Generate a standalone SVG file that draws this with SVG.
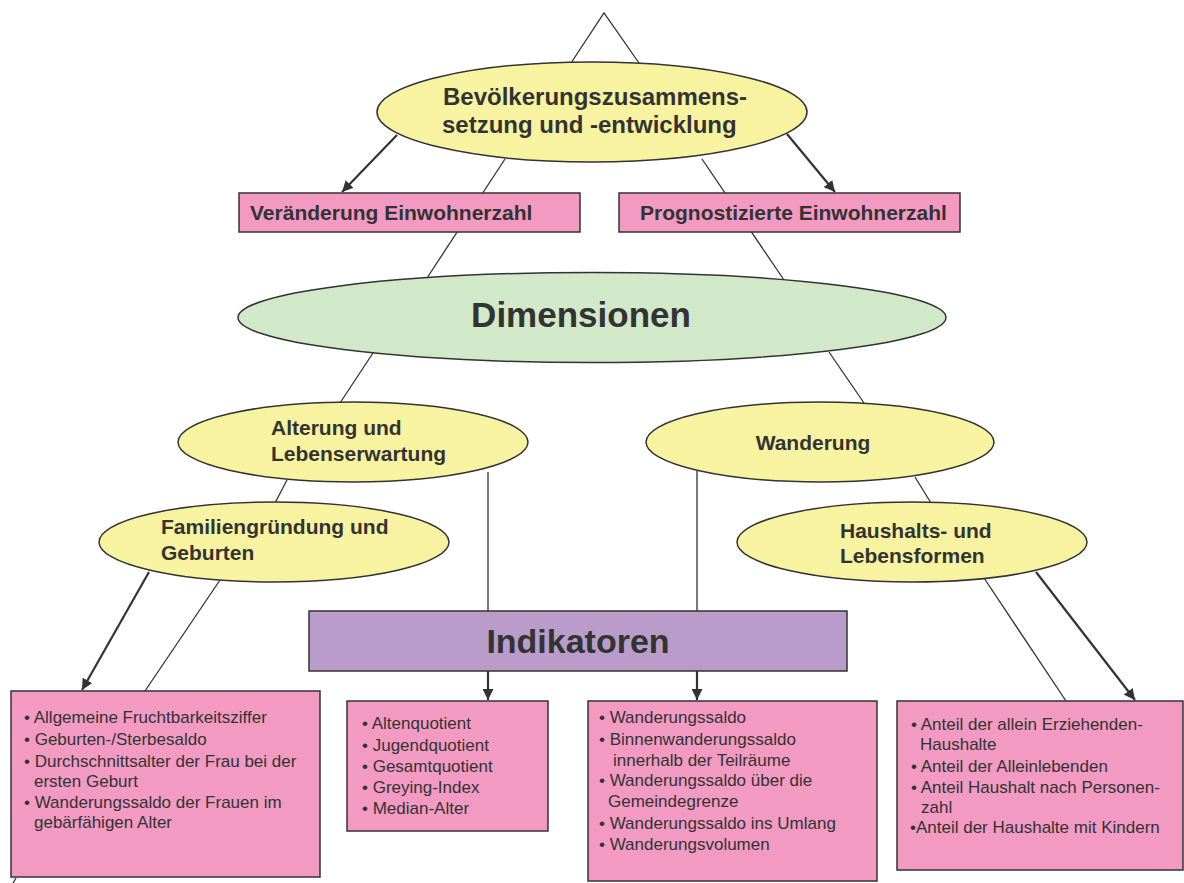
<svg xmlns="http://www.w3.org/2000/svg" width="1184" height="883" viewBox="0 0 1184 883">
<defs>
<style>
.ell{fill:#f8f3a0;stroke:#333;stroke-width:1.5}
.green{fill:#d1e8c9;stroke:#333;stroke-width:1.5}
.pink{fill:#f29ac2;stroke:#333;stroke-width:1.5}
.purple{fill:#b99cc9;stroke:#333;stroke-width:1.5}
.h{font-family:"Liberation Sans",Arial,sans-serif;font-weight:bold;fill:#333}
.t{font-family:"Liberation Sans",Arial,sans-serif;font-size:17px;fill:#333}
.thin{stroke:#333;stroke-width:1.3;fill:none}
.arr{stroke:#333;stroke-width:2.2;fill:none;marker-end:url(#ah)}
</style>
<marker id="ah" viewBox="0 0 10 10" refX="10" refY="5" markerWidth="5" markerHeight="5" orient="auto" markerUnits="strokeWidth">
<path d="M0,0 L10,5 L0,10 z" fill="#333"/>
</marker>
</defs>
<rect width="1184" height="883" fill="#fff"/>
<g id="connectors">
<polyline class="thin" points="571,63 604,13 639,63"/>
<line class="thin" x1="505" y1="159" x2="427" y2="278"/>
<line class="thin" x1="702" y1="159" x2="784" y2="280"/>
<line class="thin" x1="373" y1="353" x2="340" y2="403"/>
<line class="thin" x1="829" y1="352" x2="864" y2="403"/>
<line class="thin" x1="287" y1="480" x2="275" y2="503"/>
<line class="thin" x1="915" y1="477" x2="931" y2="503"/>
<line class="thin" x1="220" y1="580" x2="145" y2="691"/>
<line class="thin" x1="984" y1="578" x2="1066" y2="701"/>
<line class="thin" x1="488" y1="472" x2="488" y2="611"/>
<line class="thin" x1="697" y1="470" x2="697" y2="611"/>
<line class="thin" x1="16" y1="878" x2="13" y2="883"/>
<line class="arr" x1="397" y1="135" x2="342" y2="192"/>
<line class="arr" x1="787" y1="134" x2="835" y2="192"/>
<line class="arr" x1="149" y1="572" x2="82" y2="690"/>
<line class="arr" x1="1036" y1="572" x2="1135" y2="700"/>
<line class="arr" x1="488" y1="671" x2="488" y2="700"/>
<line class="arr" x1="697" y1="671" x2="697" y2="700"/>
</g>
<g id="n-bevoelkerung">
<ellipse class="ell" cx="592" cy="112" rx="215" ry="50"/>
<text class="h" font-size="24" x="443" y="105">Bevölkerungszusammens-</text>
<text class="h" font-size="24" x="442" y="133">setzung und -entwicklung</text>
</g>
<g id="n-veraenderung">
<rect class="pink" x="239" y="193" width="341" height="39"/>
<text class="h" font-size="21" x="250" y="220">Veränderung Einwohnerzahl</text>
</g>
<g id="n-prognose">
<rect class="pink" x="619" y="193" width="341" height="39"/>
<text class="h" font-size="21" x="640" y="220">Prognostizierte Einwohnerzahl</text>
</g>
<g id="n-dimensionen">
<ellipse class="green" cx="592" cy="317.5" rx="354" ry="45"/>
<text class="h" font-size="35" x="581" y="327" text-anchor="middle">Dimensionen</text>
</g>
<g id="n-alterung">
<ellipse class="ell" cx="353" cy="442" rx="175" ry="40"/>
<text class="h" font-size="21" x="271" y="435">Alterung und</text>
<text class="h" font-size="21" x="271" y="461">Lebenserwartung</text>
</g>
<g id="n-wanderung">
<ellipse class="ell" cx="820" cy="442" rx="174" ry="40"/>
<text class="h" font-size="21" x="813" y="450" text-anchor="middle">Wanderung</text>
</g>
<g id="n-familie">
<ellipse class="ell" cx="274" cy="542" rx="175" ry="40"/>
<text class="h" font-size="21" x="161" y="534">Familiengründung und</text>
<text class="h" font-size="21" x="161" y="560">Geburten</text>
</g>
<g id="n-haushalt">
<ellipse class="ell" cx="912" cy="542" rx="175" ry="40"/>
<text class="h" font-size="21" x="840" y="538">Haushalts- und</text>
<text class="h" font-size="21" x="840" y="563">Lebensformen</text>
</g>
<g id="n-indikatoren">
<rect class="purple" x="309" y="611" width="538" height="60"/>
<text class="h" font-size="34" x="578" y="653" text-anchor="middle">Indikatoren</text>
</g>
<g id="n-box1">
<rect class="pink" x="11" y="691" width="309" height="186"/>
<text class="t" x="24" y="723">• Allgemeine Fruchtbarkeitsziffer</text>
<text class="t" x="24" y="745">• Geburten-/Sterbesaldo</text>
<text class="t" x="24" y="767">• Durchschnittsalter der Frau bei der</text>
<text class="t" x="34" y="787">ersten Geburt</text>
<text class="t" x="24" y="808">• Wanderungssaldo der Frauen im</text>
<text class="t" x="34" y="828">gebärfähigen Alter</text>
</g>
<g id="n-box2">
<rect class="pink" x="347" y="701" width="201" height="130"/>
<text class="t" x="362" y="729">• Altenquotient</text>
<text class="t" x="362" y="751">• Jugendquotient</text>
<text class="t" x="362" y="772">• Gesamtquotient</text>
<text class="t" x="362" y="793">• Greying-Index</text>
<text class="t" x="362" y="814">• Median-Alter</text>
</g>
<g id="n-box3">
<rect class="pink" x="588" y="701" width="289" height="180"/>
<text class="t" x="599" y="723">• Wanderungssaldo</text>
<text class="t" x="599" y="745">• Binnenwanderungssaldo</text>
<text class="t" x="613" y="766">innerhalb der Teilräume</text>
<text class="t" x="599" y="786">• Wanderungssaldo über die</text>
<text class="t" x="608" y="807">Gemeindegrenze</text>
<text class="t" x="599" y="829">• Wanderungssaldo ins Umlang</text>
<text class="t" x="599" y="850">• Wanderungsvolumen</text>
</g>
<g id="n-box4">
<rect class="pink" x="897" y="701" width="286" height="169"/>
<text class="t" x="911" y="730">• Anteil der allein Erziehenden-</text>
<text class="t" x="920" y="750">Haushalte</text>
<text class="t" x="911" y="772">• Anteil der Alleinlebenden</text>
<text class="t" x="911" y="793">• Anteil Haushalt nach Personen-</text>
<text class="t" x="921" y="813">zahl</text>
<text class="t" x="910" y="833">•Anteil der Haushalte mit Kindern</text>
</g>
</svg>
